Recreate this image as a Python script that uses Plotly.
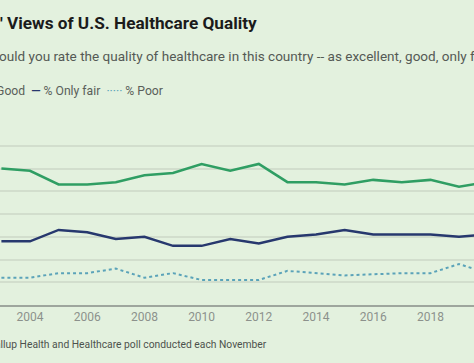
import plotly.graph_objects as go

years = list(range(2003, 2021))
excellent_good = [60, 59, 53, 53, 54, 57, 58, 62, 59, 62, 54, 54, 53, 55, 54, 55, 52, 54]
only_fair = [28, 28, 33, 32, 29, 30, 26, 26, 29, 27, 30, 31, 33, 31, 31, 31, 30, 31]
poor = [12, 12, 14, 14, 16, 12, 14, 11, 11, 11, 15, 14, 13, 13.5, 14, 14, 18, 14]
tick_years = [2004, 2006, 2008, 2010, 2012, 2014, 2016, 2018]

GREEN = "#2f9e63"
NAVY = "#27386e"
POOR = "#5ba3b9"
BG = "#e3f1de"
FONT = "Roboto"

W, H = 474, 363
TOP, BOTTOM = 123, 305

fig = go.Figure()
fig.add_trace(go.Scatter(x=years, y=excellent_good, mode="lines", name="% Excellent/Good",
                         line=dict(color=GREEN, width=2.5)))
fig.add_trace(go.Scatter(x=years, y=only_fair, mode="lines", name="% Only fair",
                         line=dict(color=NAVY, width=2.5)))
fig.add_trace(go.Scatter(x=years, y=poor, mode="lines", name="% Poor",
                         line=dict(color=POOR, width=2, dash="dot")))

def py(px):
    return (BOTTOM - px) / (BOTTOM - TOP)

annotations = [
    dict(text="<b>Americans' Views of U.S. Healthcare Quality</b>", x=259 / W, xanchor="right",
         y=py(23), yanchor="middle", font=dict(family=FONT, size=17.2, color="#1b1b1b")),
    dict(text="How would you rate the quality of healthcare in this country -- as excellent, good, only fair or poor?",
         x=0, xshift=-44, xanchor="left", y=py(56), yanchor="middle",
         font=dict(family=FONT, size=13.55, color="#555a55")),
    dict(text=(f"<span style='color:{GREEN}'><b>—</b></span> % Excellent/Good  "
               f"<span style='color:{NAVY}'><b>—</b></span> % Only fair  "
               f"<span style='color:{POOR}'>·····</span> % Poor"),
         x=165 / W, xanchor="right", y=py(91), yanchor="middle",
         font=dict(family=FONT, size=12.2, color="#5a5f5a")),
    dict(text="Source: Gallup Health and Healthcare poll conducted each November",
         x=269 / W, xanchor="right", y=py(344), yanchor="middle",
         font=dict(family=FONT, size=10.3, color="#4d524d")),
]
for a in annotations:
    a.update(xref="paper", yref="paper", showarrow=False, align="left")

fig.update_layout(
    width=W, height=H,
    margin=dict(l=0, r=0, t=TOP, b=H - BOTTOM, pad=0, autoexpand=False),
    paper_bgcolor=BG, plot_bgcolor=BG,
    showlegend=False,
    annotations=annotations,
    font=dict(family=FONT),
)
fig.update_xaxes(range=[2002.951, 2019.524], tickvals=tick_years,
                 ticktext=[str(y) for y in tick_years],
                 showgrid=False, zeroline=False, automargin=False,
                 showline=True, linecolor="#9ea69d", linewidth=2,
                 ticks="", tickfont=dict(family=FONT, size=12, color="#8c918c"))
fig.update_yaxes(range=[0, 80], dtick=10, showgrid=True, gridcolor="#d2decd", gridwidth=1.5,
                 zeroline=False, showticklabels=False, ticks="", automargin=False)

fig.write_html("out.html", config={"displayModeBar": False},
               post_script="document.body.style.margin='0';document.body.style.background='" + BG + "';")
